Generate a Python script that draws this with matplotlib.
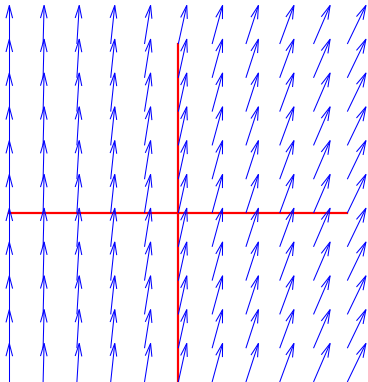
import numpy as np
import matplotlib
matplotlib.use('Agg')
import matplotlib.pyplot as plt
from matplotlib.collections import LineCollection

# grid of the vector field (columns x, rows y)
xs = [-5, -4, -3, -2, -1, 0, 1, 2, 3, 4, 5]
ys = [-5, -4, -3, -2, -1, 0, 1, 2, 3, 4, 5]
# arrow components per column (same in every row)
u_col = [0.0, 0.03, 0.07, 0.12, 0.18, 0.25, 0.31, 0.37, 0.42, 0.49, 0.55]
v_col = [1.14, 1.14, 1.14, 1.14, 1.14, 1.14, 1.14, 1.14, 1.14, 1.14, 1.14]

# red axes lines through the origin
hline_x = [-5, 5]
hline_y = [0, 0]
vline_x = [0, 0]
vline_y = [-5, 5]

X, Y = np.meshgrid(xs, ys)
U = np.tile(u_col, (len(ys), 1))
V = np.tile(v_col, (len(ys), 1))

fig = plt.figure(figsize=(3.68, 3.82), dpi=100)
ax = fig.add_axes([0, 0, 1, 1])

ax.plot(hline_x, hline_y, color='red', lw=1.6, zorder=2)
ax.plot(vline_x, vline_y, color='red', lw=1.6, zorder=2)

# matlab-like open arrows: shaft + two head strokes
alpha, beta = 0.33, 0.26
x0 = X.ravel(); y0 = Y.ravel(); u = U.ravel(); v = V.ravel()
tx = x0 + u; ty = y0 + v
segs = []
for i in range(len(x0)):
    segs.append([(x0[i], y0[i]), (tx[i], ty[i])])
    segs.append([(tx[i] - alpha*(u[i] + beta*v[i]), ty[i] - alpha*(v[i] - beta*u[i])),
                 (tx[i], ty[i]),
                 (tx[i] - alpha*(u[i] - beta*v[i]), ty[i] - alpha*(v[i] + beta*u[i]))])
ax.add_collection(LineCollection(segs, colors='blue', linewidths=0.75, zorder=3))

ax.set_xlim(-5.275, 5.612)
ax.set_ylim(-5.0, 6.302)
ax.axis('off')

fig.savefig('out.png', dpi=100)
